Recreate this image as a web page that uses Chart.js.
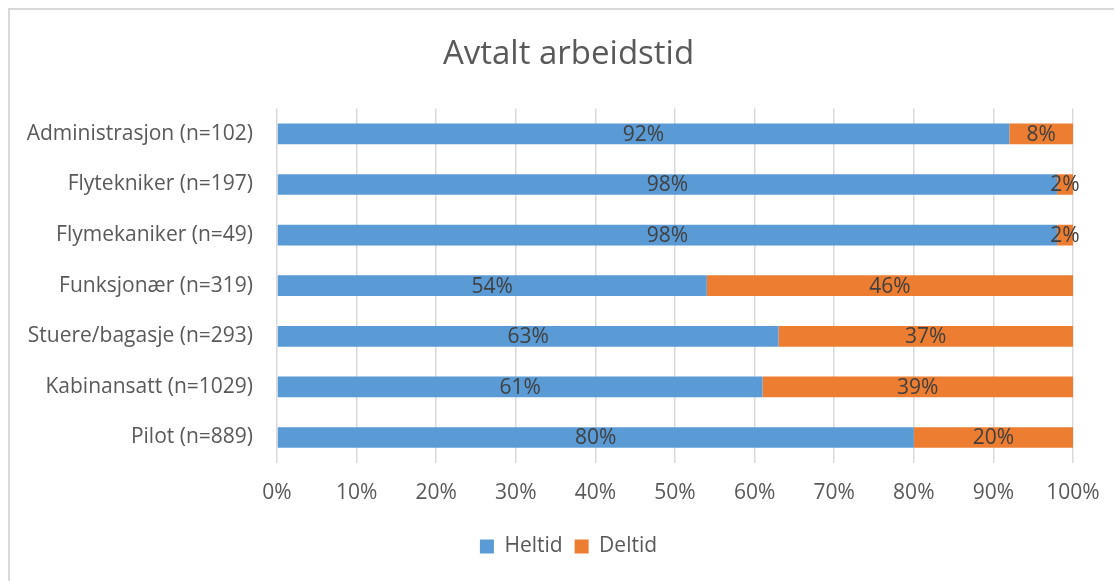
<!DOCTYPE html>
<html>
<head>
<meta charset="utf-8">
<script src="https://cdn.jsdelivr.net/npm/chart.js@4"></script>
<style>
  html, body { margin: 0; padding: 0; background: #fff; overflow: hidden; }
  #frame {
    position: absolute; left: 8px; top: 8px; width: 1120px; height: 590px;
    border: 2px solid #d9d9d9; box-sizing: border-box;
  }
  #wrap { position: absolute; left: 10px; top: 10px; width: 1117px; height: 571px; }
</style>
</head>
<body>
<div id="frame"></div>
<div id="wrap"><canvas id="myChart"></canvas></div>
<script>
// grupper og andel heltid / deltid (prosent)
const grupper = ['Administrasjon (n=102)', 'Flytekniker (n=197)', 'Flymekaniker (n=49)',
  'Funksjonær (n=319)', 'Stuere/bagasje (n=293)', 'Kabinansatt (n=1029)', 'Pilot (n=889)'];
const heltid = [92, 98, 98, 54, 63, 61, 80];
const deltid = [8, 2, 2, 46, 37, 39, 20];
const xTicks = [0, 10, 20, 30, 40, 50, 60, 70, 80, 90, 100];

const FONT = '"Open Sans", sans-serif';

// skriver prosenten midt i hvert stykke av stolpen
const verdiEtiketter = {
  id: 'verdiEtiketter',
  afterDatasetsDraw(chart) {
    const ctx = chart.ctx;
    ctx.save();
    ctx.font = '21px ' + FONT;
    ctx.fillStyle = '#404040';
    ctx.textAlign = 'center';
    ctx.textBaseline = 'middle';
    chart.data.datasets.forEach((ds, i) => {
      chart.getDatasetMeta(i).data.forEach((bar, j) => {
        const x = (bar.x + bar.base) / 2;
        ctx.fillText(ds.data[j] + '%', x, bar.y + 1);
      });
    });
    ctx.restore();
  }
};

var ctx = document.getElementById('myChart').getContext('2d');
var chart = new Chart(ctx, {
  type: 'bar',
  data: {
    labels: grupper,
    datasets: [{
      label: 'Heltid',
      backgroundColor: '#5B9BD5',
      data: heltid,
      barPercentage: 0.41,
      categoryPercentage: 1
    }, {
      label: 'Deltid',
      backgroundColor: '#ED7D31',
      data: deltid,
      barPercentage: 0.41,
      categoryPercentage: 1
    }]
  },
  plugins: [verdiEtiketter],
  options: {
    indexAxis: 'y',
    responsive: true,
    maintainAspectRatio: false,
    animation: false,
    layout: { padding: { left: 0, right: 0, top: 0, bottom: 14 } },
    plugins: {
      title: {
        display: true,
        text: 'Avtalt arbeidstid',
        color: '#595959',
        font: { family: FONT, size: 33, weight: 'normal' },
        padding: { top: 25, bottom: 34 }
      },
      legend: {
        position: 'bottom',
        labels: {
          color: '#595959',
          font: { family: FONT, size: 21 },
          boxWidth: 14,
          boxHeight: 14,
          padding: 12
        }
      },
      tooltip: { enabled: false }
    },
    scales: {
      x: {
        stacked: true,
        min: 0,
        max: 100,
        afterBuildTicks(scale) {
          scale.ticks = xTicks.map(v => ({ value: v }));
        },
        ticks: {
          color: '#595959',
          font: { family: FONT, size: 21 },
          padding: 18,
          callback: v => v + '%'
        },
        grid: { color: '#d9d9d9', lineWidth: 1.5, drawTicks: false },
        border: { display: false }
      },
      y: {
        stacked: true,
        afterFit(scale) { scale.width = 267; },
        ticks: {
          color: '#595959',
          font: { family: FONT, size: 21 },
          padding: 24
        },
        grid: { display: false, drawTicks: false },
        border: { display: false }
      },
      // tom akse til høyre, gir luft bak 100 %
      hoyre: {
        type: 'linear',
        position: 'right',
        afterFit(scale) { scale.width = 54; },
        ticks: { display: false },
        grid: { display: false, drawTicks: false },
        border: { display: false }
      }
    }
  }
});
</script>
</body>
</html>
